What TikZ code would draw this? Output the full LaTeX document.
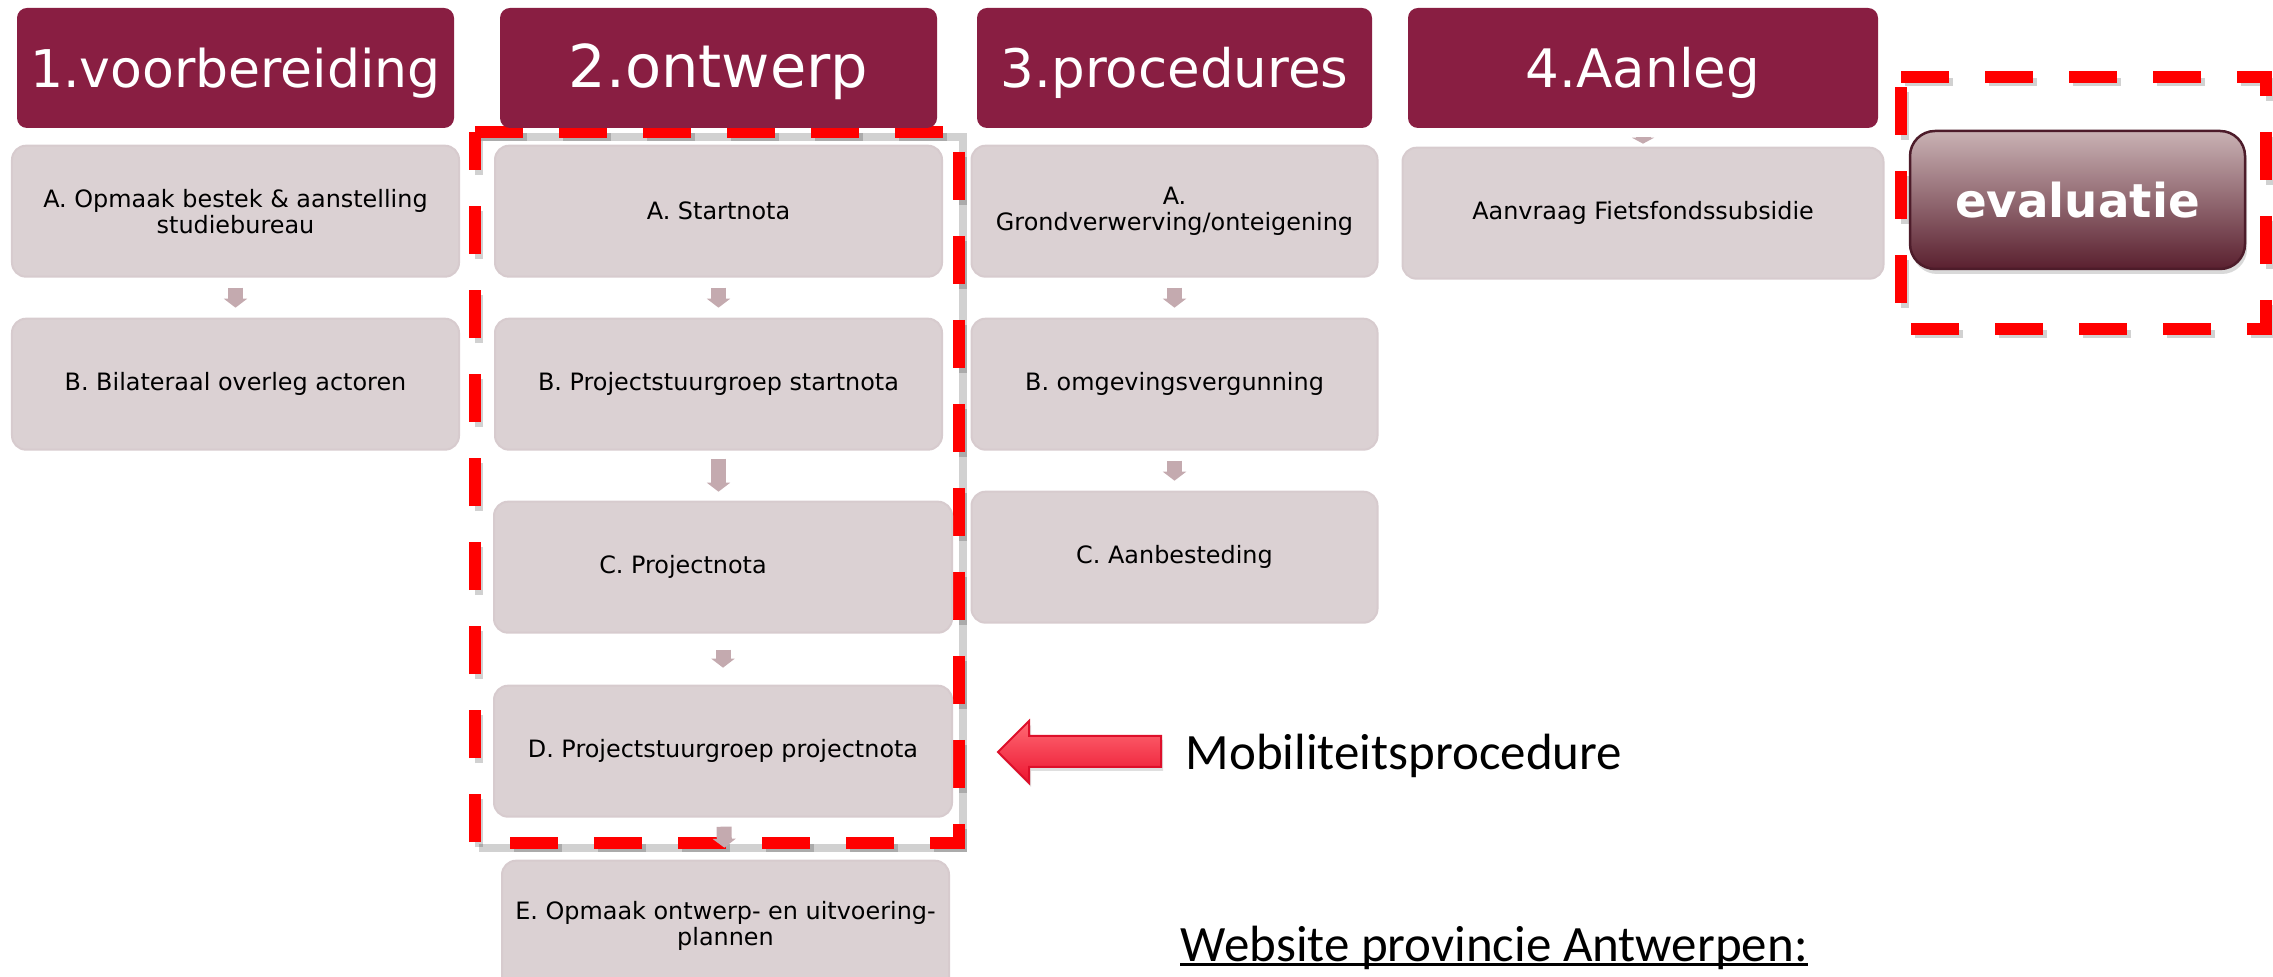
\documentclass[tikz,border=0pt]{standalone}
\usepackage{fontspec}
\setmainfont{DejaVu Sans}
\newfontfamily\calibrifont{Carlito}
\usetikzlibrary{positioning,arrows.meta,shadows}

\definecolor{kopkleur}{HTML}{891E42}
\definecolor{stapkleur}{HTML}{DBD1D3}
\definecolor{stapran}{HTML}{D7CBCE}
\definecolor{pijlkleur}{HTML}{C4AAAF}
\definecolor{evalboven}{HTML}{C9B2B4}
\definecolor{evalmidden}{HTML}{A07D82}
\definecolor{evalonder}{HTML}{5A202F}
\definecolor{evalran}{HTML}{4D1C2A}
\definecolor{rood}{HTML}{FF0000}
\definecolor{pijlboven}{HTML}{FF6A74}
\definecolor{pijlonder}{HTML}{EC1530}
\definecolor{pijlran}{HTML}{DD0F2A}

\begin{document}
\begin{tikzpicture}[font=\fontsize{6.8}{7.4}\selectfont]
\tikzset{kop/.style=
            {fill=kopkleur,rounded corners=0.1cm,minimum height=1.2cm,
             text=white,text height=0.39cm,text depth=0pt,inner sep=0pt},
         stap/.style=
            {fill=stapkleur,draw=stapran,line width=0.02cm,rounded corners=0.14cm,
             minimum width=4.47cm,minimum height=1.31cm,align=center},
         volg/.style=
            {draw=pijlkleur,line width=0.15cm,shorten <=0.1cm,shorten >=0.1cm,
             -{Triangle[length=0.09cm,width=0.23cm]}},
         kader/.style=
            {draw=rood,line width=0.115cm,dash pattern=on 0.48cm off 0.36cm},
         kaderschaduw/.style=
            {draw=black,opacity=0.18,line width=0.08cm}}
\useasboundingbox (0,0) rectangle (22.73,-9.77);

% kaders
\draw[kaderschaduw] (4.79,-1.37) -- (9.63,-1.37) -- (9.63,-8.48) -- (4.79,-8.48);
\draw[kaderschaduw,dash pattern=on 0.48cm off 0.36cm]
    (4.79,-1.37) -- (9.63,-1.37) -- (9.63,-8.48) -- (4.79,-8.48) -- cycle;
\draw[kader] (4.75,-1.32) -- (9.59,-1.32) -- (9.59,-8.43) -- (4.75,-8.43) -- cycle;
\draw[kaderschaduw,dash pattern=on 0.48cm off 0.36cm]
    (19.05,-0.82) -- (22.70,-0.82) -- (22.70,-3.34) -- (19.05,-3.34) -- cycle;
\draw[kader] (19.01,-0.77) -- (22.66,-0.77) -- (22.66,-3.29) -- (19.01,-3.29) -- cycle;

% kolomkoppen
\node[kop,minimum width=4.37cm,font=\fontsize{14.8}{14.8}\selectfont]
    (kop1) at (2.355,-0.68) {1.voorbereiding};
\node[kop,minimum width=4.37cm,font=\fontsize{16.8}{16.8}\selectfont]
    (kop2) at (7.185,-0.68) {2.ontwerp};
\node[kop,minimum width=3.95cm,font=\fontsize{15.1}{15.1}\selectfont]
    (kop3) at (11.745,-0.68) {3.procedures};
\node[kop,minimum width=4.70cm,font=\fontsize{15.1}{15.1}\selectfont]
    (kop4) at (16.43,-0.68) {4.Aanleg};

% 1.voorbereiding
\node[stap,below=0.16cm of kop1] (s1a) {A. Opmaak bestek \& aanstelling\\studiebureau};
\node[stap,below=0.40cm of s1a] (s1b) {B. Bilateraal overleg actoren};

% 2.ontwerp
\node[stap,below=0.16cm of kop2] (s2a) {A. Startnota};
\node[stap,below=0.40cm of s2a] (s2b) {B. Projectstuurgroep startnota};
\node[stap,minimum width=4.58cm,below=0.50cm of s2b,xshift=0.045cm]
    (s2c) {C. Projectnota\hspace*{0.8cm}};
\node[stap,minimum width=4.58cm,below=0.51cm of s2c] (s2d) {D. Projectstuurgroep projectnota};
\node[stap,below=0.42cm of s2d,xshift=0.025cm]
    (s2e) {E. Opmaak ontwerp- en uitvoering-\\plannen};

% 3.procedures
\node[stap,minimum width=4.06cm,below=0.16cm of kop3] (s3a) {A.\\Grondverwerving/onteigening};
\node[stap,minimum width=4.06cm,below=0.40cm of s3a] (s3b) {B. omgevingsvergunning};
\node[stap,minimum width=4.06cm,below=0.40cm of s3b] (s3c) {C. Aanbesteding};

% 4.Aanleg
\node[stap,minimum width=4.81cm,below=0.18cm of kop4] (s4a) {Aanvraag Fietsfondssubsidie};

\node[rounded corners=0.25cm,minimum width=3.35cm,minimum height=1.38cm,
      top color=evalboven,middle color=evalmidden,bottom color=evalonder,
      draw=evalran,line width=0.025cm,text=white,
      font=\bfseries\fontsize{13.3}{13.3}\selectfont,
      drop shadow={opacity=0.3,shadow xshift=0.02cm,shadow yshift=-0.05cm}]
    (eval) at (20.775,-2.0) {evaluatie};

% pijlen
\draw[volg] (s1a) -- (s1b);
\draw[volg] (s2a) -- (s2b);
\draw[volg,shorten <=0.08cm,shorten >=0.09cm] (s2b.south) -- (s2b.south |- s2c.north);
\draw[volg,shorten <=0.16cm,shorten >=0.17cm] (s2c) -- (s2d);
\draw[volg,shorten <=0.09cm,shorten >=0.12cm] (s2d) -- (s2e);
\draw[volg] (s3a) -- (s3b);
\draw[volg] (s3b) -- (s3c);
\draw[volg,shorten <=0.08cm,shorten >=0.03cm,-{Triangle[length=0.06cm,width=0.22cm]}]
    (kop4) -- (s4a);

% mobiliteitsprocedure
\node[anchor=base west,inner sep=0pt,font=\calibrifont\fontsize{14.5}{14.5}\selectfont]
    (mobi) at (11.85,-7.70) {Mobiliteitsprocedure};
\draw[top color=pijlboven,bottom color=pijlonder,draw=pijlran,line width=0.02cm,
      drop shadow={opacity=0.25,shadow xshift=0.02cm,shadow yshift=-0.04cm}]
    (9.98,-7.52) -- (10.29,-7.21) -- (10.29,-7.36) -- (11.61,-7.36)
    -- (11.61,-7.67) -- (10.29,-7.67) -- (10.29,-7.83) -- cycle;

\node[anchor=base west,inner sep=0pt,font=\calibrifont\fontsize{14.5}{14.5}\selectfont]
    (website) at (11.80,-9.61) {Website provincie Antwerpen:};
\draw[line width=0.03cm] ([yshift=-0.035cm]website.base west) -- ([yshift=-0.035cm]website.base east);
\end{tikzpicture}
\end{document}
